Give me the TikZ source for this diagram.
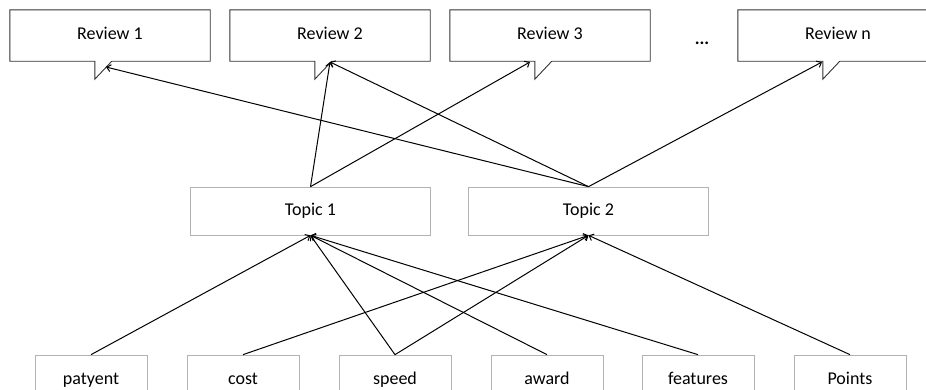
\documentclass[tikz,border=0pt]{standalone}
\usepackage{fontspec}
\setmainfont{Carlito}
\usetikzlibrary{arrows.meta}

\tikzset{
	every node/.style={font=\fontsize{18}{22}\selectfont, text height=12pt, text depth=4pt},
	review/.style={minimum width=200pt, minimum height=51pt, inner sep=0pt},
	calloutline/.style={draw=black!80, line width=0.9pt},
	topic/.style={draw=gray!60, line width=0.7pt, minimum width=240pt, minimum height=48pt, inner sep=0pt},
	word/.style={draw=gray!60, line width=0.7pt, minimum width=112pt, minimum height=50pt, inner sep=0pt},
	link/.style={line width=1pt, -{Straight Barb[length=4pt,width=7pt]}}
}

\begin{document}
\begin{tikzpicture}[x=1pt, y=-1pt]
		\useasboundingbox (0, 0) rectangle (926, 389);
		\clip (0, 0) rectangle (926, 389);
		% reviews
		\node[review] (r1) at (110, 35.5) {Review 1};
		\node[review] (r2) at (330, 35.5) {Review 2};
		\node[review] (r3) at (550, 35.5) {Review 3};
		\node[review] (rn) at (838, 35.5) {Review n};
		\node (dots) at (702, 40) {\textbf{...}};
		\foreach \r in {r1, r2, r3, rn}
			\draw[calloutline] (\r.south west) -- (\r.north west) -- (\r.north east) -- (\r.south east)
				-- ([xshift=102pt]\r.south west) -- ++(-17, 18) -- ++(0, -18) -- cycle;
		\coordinate (r1in) at (106, 67);
		\coordinate (r2in) at (330, 62);
		\coordinate (r3in) at (530, 62);
		\coordinate (rnin) at (822, 62);
		% topics
		\node[topic] (t1) at (310.5, 211) {Topic 1};
		\node[topic] (t2) at (588.5, 211) {Topic 2};
		% words
		\node[word] (w1) at (91, 380) {patyent};
		\node[word] (w2) at (243, 380) {cost};
		\node[word] (w3) at (395, 380) {speed};
		\node[word] (w4) at (547, 380) {award};
		\node[word] (w5) at (698, 380) {features};
		\node[word] (w6) at (850, 380) {Points};
		% links
		\draw[link] (t1.north) -- (r2in);
		\draw[link] (t1.north) -- (r3in);
		\draw[link] (t2.north) -- (r1in);
		\draw[link] (t2.north) -- (r2in);
		\draw[link] (t2.north) -- (rnin);
		\draw[link] (w1.north) -- (t1.south);
		\draw[link] (w3.north) -- (t1.south);
		\draw[link] (w4.north) -- (t1.south);
		\draw[link] (w5.north) -- (t1.south);
		\draw[link] (w2.north) -- (t2.south);
		\draw[link] (w3.north) -- (t2.south);
		\draw[link] (w6.north) -- (t2.south);
	\end{tikzpicture}
\end{document}
